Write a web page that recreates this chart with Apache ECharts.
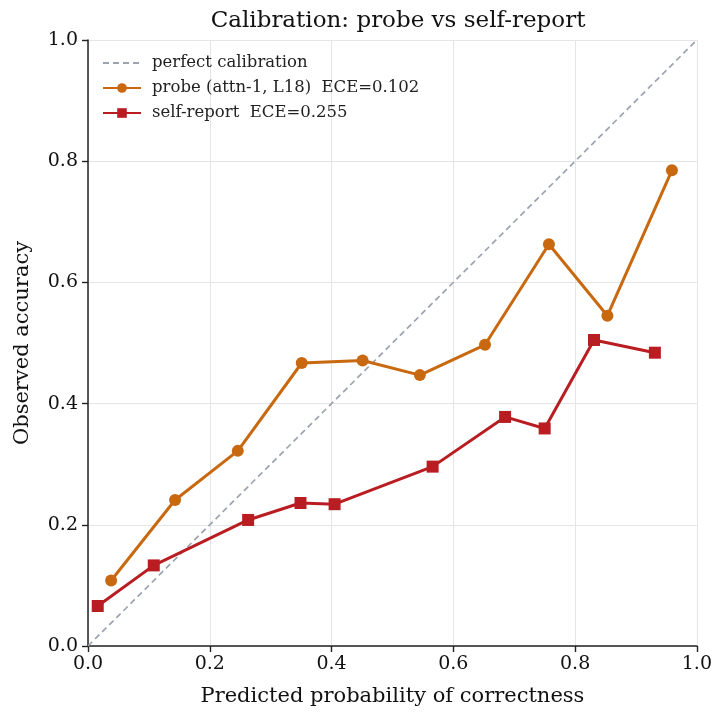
<!DOCTYPE html>
<html>
<head>
<meta charset="utf-8">
<script src="https://cdn.jsdelivr.net/npm/echarts@6/dist/echarts.min.js"></script>
<style>
  html, body { margin: 0; padding: 0; background: #fff; }
  #chart { width: 715px; height: 712px; }
</style>
</head>
<body>
<div id="chart"></div>
<script>
// Reliability-diagram bins: mean predicted probability vs observed accuracy
const probeConf = [0.038, 0.143, 0.246, 0.351, 0.451, 0.545, 0.652, 0.757, 0.853, 0.959];
const probeAcc  = [0.108, 0.241, 0.322, 0.467, 0.471, 0.447, 0.497, 0.663, 0.545, 0.785];
const selfConf  = [0.016, 0.108, 0.263, 0.349, 0.405, 0.566, 0.685, 0.750, 0.831, 0.931];
const selfAcc   = [0.066, 0.133, 0.208, 0.236, 0.234, 0.296, 0.378, 0.359, 0.505, 0.484];
const diagonal  = [[0, 0], [1, 1]];

const FONT = "'DejaVu Serif', serif";
const pairs = (xs, ys) => xs.map((x, i) => [x, ys[i]]);

const chart = echarts.init(document.getElementById('chart'), null, { renderer: 'canvas' });

const axisCommon = {
  type: 'value',
  min: 0,
  max: 1,
  interval: 0.2,
  axisLine: { show: true, lineStyle: { color: '#222', width: 1.5 } },
  axisTick: { show: true, inside: false, length: 6, lineStyle: { color: '#222', width: 1.4 } },
  axisLabel: {
    color: '#111', fontFamily: FONT, fontSize: 19,
    formatter: v => v.toFixed(1)
  },
  splitLine: { show: true, lineStyle: { color: '#e5e5e5', width: 1 } },
  nameLocation: 'middle',
  nameTextStyle: { color: '#111', fontFamily: FONT, fontSize: 21 }
};

chart.setOption({
  animation: false,
  backgroundColor: '#ffffff',
  title: {
    text: 'Calibration: probe vs self-report',
    left: 393, top: 5, textAlign: 'center',
    textStyle: { fontFamily: FONT, fontSize: 23, fontWeight: 'normal', color: '#111' }
  },
  grid: { left: 88, right: 18, top: 40, bottom: 63, containLabel: false },
  legend: {
    orient: 'vertical',
    left: 97, top: 48,
    itemWidth: 38, itemHeight: 12, itemGap: 5,
    textStyle: { fontFamily: FONT, fontSize: 16.5, color: '#222', lineHeight: 20, padding: [0, 0, 0, 6] },
    data: [
      { name: 'perfect calibration', itemStyle: { opacity: 0 } },
      'probe (attn-1, L18)  ECE=0.102',
      'self-report  ECE=0.255'
    ]
  },
  xAxis: Object.assign({}, axisCommon, {
    name: 'Predicted probability of correctness',
    nameGap: 40,
    axisLabel: Object.assign({}, axisCommon.axisLabel, { margin: 9 })
  }),
  yAxis: Object.assign({}, axisCommon, {
    name: 'Observed accuracy',
    nameGap: 55,
    axisLabel: Object.assign({}, axisCommon.axisLabel, { margin: 10 })
  }),
  series: [
    {
      name: 'perfect calibration',
      type: 'line',
      data: diagonal,
      symbol: 'none',
      lineStyle: { color: '#9ca3af', width: 1.7, type: [6, 4] },
      itemStyle: { color: '#9ca3af' },
      z: 1
    },
    {
      name: 'probe (attn-1, L18)  ECE=0.102',
      type: 'line',
      data: pairs(probeConf, probeAcc),
      symbol: 'circle',
      symbolSize: 12,
      lineStyle: { color: '#c8680f', width: 3 },
      itemStyle: { color: '#c8680f' },
      z: 3
    },
    {
      name: 'self-report  ECE=0.255',
      type: 'line',
      data: pairs(selfConf, selfAcc),
      symbol: 'rect',
      symbolSize: 12,
      lineStyle: { color: '#b91d22', width: 3 },
      itemStyle: { color: '#b91d22' },
      z: 3
    }
  ]
});
</script>
</body>
</html>
